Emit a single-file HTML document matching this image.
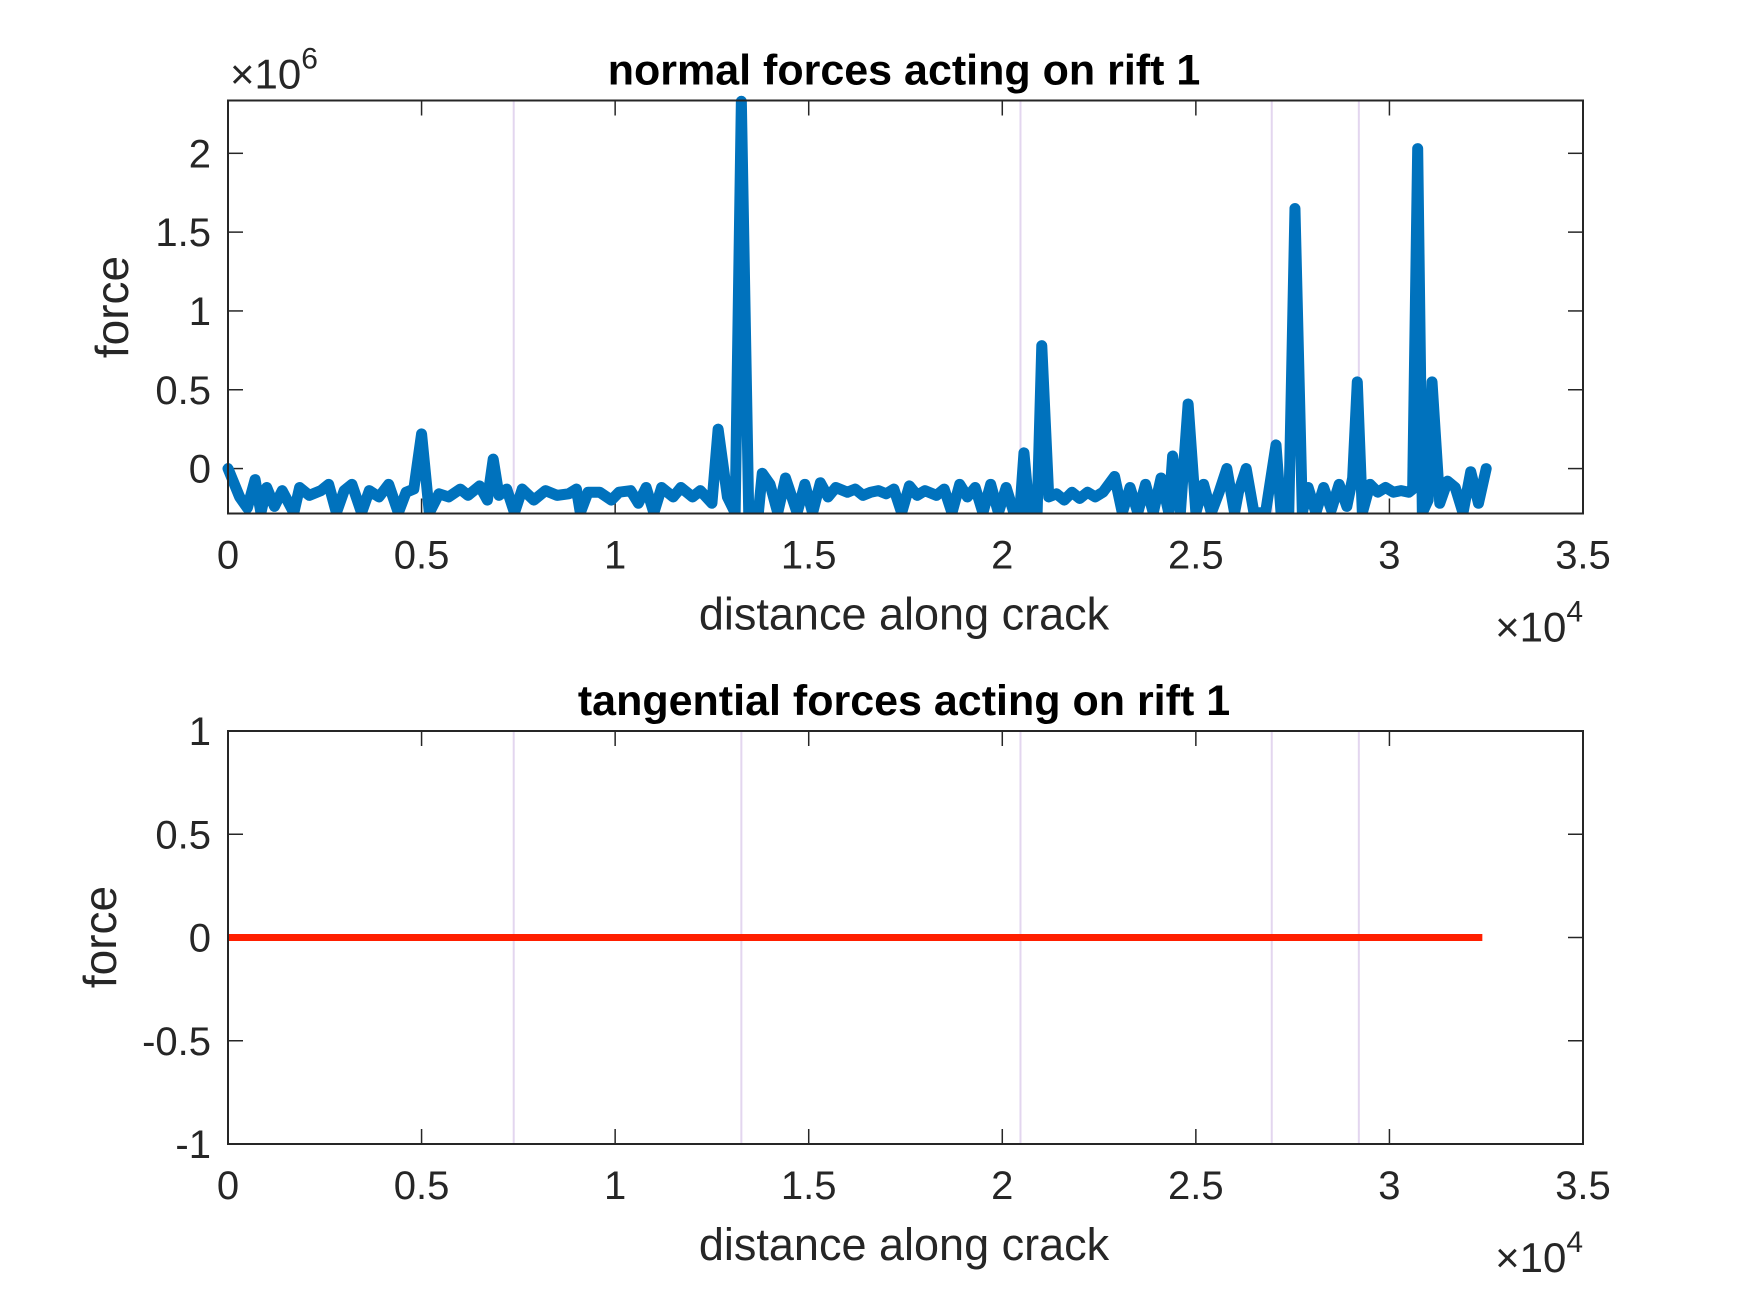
<!DOCTYPE html>
<html><head><meta charset="utf-8">
<style>
html,body{margin:0;padding:0;background:#fff;}
svg{display:block;font-family:"Liberation Sans",sans-serif;}
</style></head>
<body>
<svg id="fig" width="1750" height="1313" viewBox="0 0 1750 1313" xmlns="http://www.w3.org/2000/svg">
<rect width="1750" height="1313" fill="#fff"/>
<g id="ax1"></g>
<g id="ax2"></g>
</svg>
<script>
// Data (x in units of 1e4, y in units of 1e6)
const normalX = [0,.03,.05,.07,.085,.1,.12,.14,.17,.185,.21,.24,.26,.28,.30,.32,.345,.365,.39,.415,.44,.46,.48,
.50,.52,.545,.57,.6,.62,.65,.67,.685,.70,.72,.74,.76,.79,.82,.85,.88,.9,.91,.93,.96,.99,1.01,1.04,1.06,1.08,1.1,1.12,1.15,1.17,1.2,1.22,1.25,1.266,1.29,1.31,1.326,1.345,1.37,1.38,1.40,1.42,1.44,1.47,1.49,1.51,1.53,1.55,1.57,1.6,1.62,1.64,1.66,1.68,1.70,1.72,1.74,1.76,1.78,1.80,1.83,1.85,1.87,1.89,1.91,1.93,1.95,1.97,1.99,2.01,2.03,2.045,2.056,2.07,2.09,2.102,2.12,2.14,2.16,2.18,2.2,2.22,2.24,2.26,2.29,2.31,2.33,2.35,2.37,2.39,2.41,2.43,2.44,2.46,2.48,2.50,2.52,2.54,2.56,2.58,2.60,2.61,2.63,2.65,2.68,2.707,2.72,2.74,2.756,2.775,2.79,2.81,2.83,2.85,2.87,2.89,2.905,2.917,2.93,2.95,2.97,2.99,3.01,3.03,3.05,3.06,3.073,3.085,3.10,3.11,3.13,3.15,3.17,3.19,3.21,3.23,3.25];
const normalY = [0,-.18,-.25,-.07,-.28,-.12,-.24,-.14,-.28,-.12,-.17,-.14,-.1,-.28,-.14,-.1,-.28,-.14,-.18,-.1,-.28,-.15,-.13,
.22,-.28,-.16,-.18,-.13,-.17,-.11,-.2,.06,-.17,-.13,-.28,-.13,-.2,-.14,-.17,-.16,-.13,-.28,-.15,-.15,-.2,-.15,-.14,-.22,-.12,-.28,-.12,-.18,-.12,-.18,-.14,-.22,.25,-.18,-.28,2.33,-.28,-.28,-.03,-.1,-.28,-.06,-.28,-.1,-.28,-.09,-.18,-.12,-.15,-.13,-.17,-.15,-.14,-.16,-.13,-.28,-.11,-.17,-.14,-.17,-.13,-.28,-.1,-.18,-.12,-.28,-.1,-.28,-.12,-.28,-.28,.1,-.28,-.28,.78,-.18,-.16,-.2,-.15,-.19,-.15,-.18,-.15,-.05,-.28,-.12,-.28,-.1,-.28,-.06,-.28,.08,-.28,.41,-.28,-.1,-.28,-.15,0,-.28,-.15,0,-.28,-.28,.15,-.28,-.28,1.65,-.28,-.12,-.28,-.12,-.26,-.1,-.24,-.06,.55,-.28,-.1,-.15,-.12,-.15,-.14,-.15,-.13,2.03,-.28,-.2,.55,-.22,-.08,-.12,-.28,-.02,-.22,0];
const tangentialX = [0, 3.24];
const tangentialY = [0, 0];
const riftLinesTop = [0.738, 2.047, 2.696, 2.921];
const riftLinesBottom = [0.738, 1.326, 2.047, 2.696, 2.921];
const xTicks = [0,0.5,1,1.5,2,2.5,3,3.5];
const xTickLabels = ["0","0.5","1","1.5","2","2.5","3","3.5"];
const y1Ticks = [0,0.5,1,1.5,2];
const y1TickLabels = ["0","0.5","1","1.5","2"];
const y2Ticks = [-1,-0.5,0,0.5,1];
const y2TickLabels = ["-1","-0.5","0","0.5","1"];

const NS="http://www.w3.org/2000/svg";
function mk(parent, tag, attrs){const e=document.createElementNS(NS,tag);for(const k in attrs)e.setAttribute(k,attrs[k]);parent.appendChild(e);return e;}
const L=228, R=1583;
function sx(v){return L+(v-0)/(3.5-0)*(R-L);}

function drawAxes(g, top, bot, ymin, ymax, yTicks, yLabels, riftLines, title, expLabel){
  const sy=v=>bot-(v-ymin)/(ymax-ymin)*(bot-top);
  riftLines.forEach(v=>{
    const l=mk(g,'line',{x1:sx(v),x2:sx(v),y1:top,y2:bot,stroke:'#e3d6ef','stroke-width':2});
    
    
  });
  xTicks.forEach((v,i)=>{
    const x=sx(v);
    mk(g,'line',{x1:x,x2:x,y1:bot,y2:bot-15,stroke:'#262626','stroke-width':1.5});
    mk(g,'line',{x1:x,x2:x,y1:top,y2:top+15,stroke:'#262626','stroke-width':1.5});
    const t=mk(g,'text',{x:x,y:bot+55,'text-anchor':'middle','font-size':40,fill:'#262626'});
    t.textContent=xTickLabels[i];
    
    
  });
  yTicks.forEach((v,i)=>{
    const y=sy(v);
    mk(g,'line',{x1:L,x2:L+15,y1:y,y2:y,stroke:'#262626','stroke-width':1.5});
    mk(g,'line',{x1:R,x2:R-15,y1:y,y2:y,stroke:'#262626','stroke-width':1.5});
    const t=mk(g,'text',{x:211,y:y+14,'text-anchor':'end','font-size':40,fill:'#262626'});
    t.textContent=yLabels[i];
    
    
  });
  const tt=mk(g,'text',{x:904,y:top-16,'text-anchor':'middle','font-size':43,'font-weight':'bold',fill:'#000'});
  tt.textContent=title;
  
  
  const xl=mk(g,'text',{x:904,y:bot+116,'text-anchor':'middle','font-size':45,fill:'#262626'});
  xl.textContent='distance along crack';
  
  
  const ex=mk(g,'text',{x:R,y:bot+128,'text-anchor':'end','font-size':42,fill:'#262626'});
  ex.innerHTML='×10<tspan font-size="30" dy="-20">4</tspan>';
  
  
  if(expLabel){
    const ey=mk(g,'text',{x:230,y:top-12,'font-size':42,fill:'#262626'});
    ey.innerHTML='×10<tspan font-size="30" dy="-20">6</tspan>';
    
    
  }
  return sy;
}

const g1=document.getElementById('ax1');
const sy1=drawAxes(g1,100.5,513.5,-0.285,2.335,y1Ticks,y1TickLabels,riftLinesTop,'normal forces acting on rift 1',true);
const p1=mk(g1,'polyline',{points:normalX.map((x,i)=>sx(x)+','+sy1(normalY[i])).join(' '),fill:'none',stroke:'#0072BD','stroke-width':11,'stroke-linejoin':'round','stroke-linecap':'round'});


mk(g1,'rect',{x:0,y:513.5,width:1750,height:8,fill:'#fff'});
mk(g1,'rect',{x:L,y:100.5,width:R-L,height:413,fill:'none',stroke:'#262626','stroke-width':2});
const yl1=mk(g1,'text',{x:0,y:0,'text-anchor':'middle','font-size':46,fill:'#262626',transform:'translate(128,307) rotate(-90)'});
yl1.textContent='force';



const g2=document.getElementById('ax2');
const sy2=drawAxes(g2,731,1144,-1,1,y2Ticks,y2TickLabels,riftLinesBottom,'tangential forces acting on rift 1',false);
const p2=mk(g2,'polyline',{points:tangentialX.map((x,i)=>sx(x)+','+sy2(tangentialY[i])).join(' '),fill:'none',stroke:'#ff1f00','stroke-width':7});


mk(g2,'rect',{x:L,y:731,width:R-L,height:413,fill:'none',stroke:'#262626','stroke-width':2});
const yl2=mk(g2,'text',{x:0,y:0,'text-anchor':'middle','font-size':46,fill:'#262626',transform:'translate(116,937) rotate(-90)'});
yl2.textContent='force';


</script>
</body></html>
